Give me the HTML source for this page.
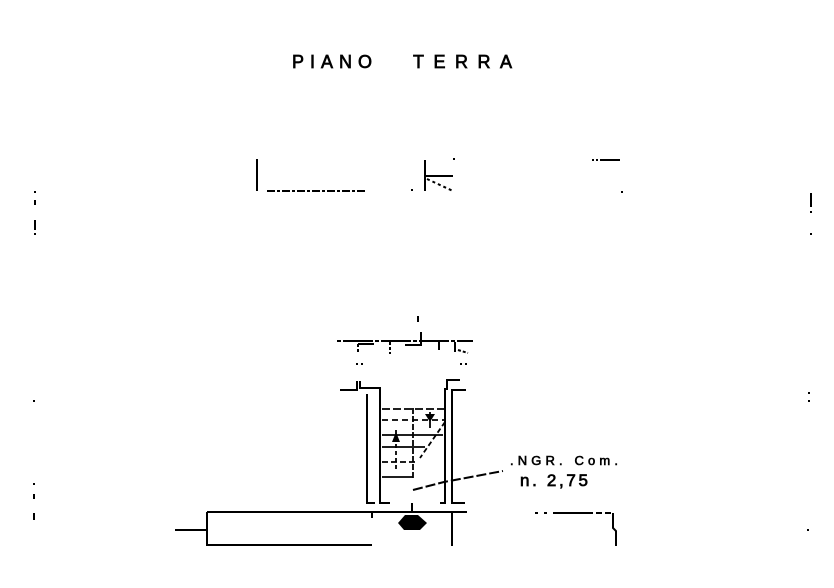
<!DOCTYPE html>
<html><head><meta charset="utf-8"><style>
html,body{margin:0;padding:0;background:#fff;width:834px;height:588px;overflow:hidden}
svg{display:block}
text{font-family:"Liberation Sans",sans-serif;fill:#000}
</style></head><body>
<svg width="834" height="588" viewBox="0 0 834 588" stroke="#000" fill="none" stroke-width="2">
<text x="292" y="68" font-size="18" stroke="#000" stroke-width="0.7" textLength="80" lengthAdjust="spacing">PIANO</text>
<text x="413" y="68" font-size="18" stroke="#000" stroke-width="0.7" textLength="99" lengthAdjust="spacing">TERRA</text>
<!-- top fragments -->
<line x1="257" y1="159" x2="257" y2="191"/>
<line x1="267" y1="191" x2="367" y2="191" stroke-dasharray="8,2,3,2"/>
<line x1="425" y1="160" x2="425" y2="191"/>
<line x1="426" y1="176" x2="453" y2="176"/>
<line x1="427" y1="179" x2="453" y2="191" stroke-dasharray="3,3"/>
<rect x="411" y="189" width="2" height="2" fill="#000" stroke="none"/>
<rect x="453" y="158" width="2" height="2" fill="#000" stroke="none"/>
<line x1="592" y1="160" x2="622" y2="160" stroke-dasharray="2,2,2,2,20"/>
<rect x="621" y="191" width="2" height="2" fill="#000" stroke="none"/>
<!-- edge marks -->
<g fill="#000" stroke="none">
<rect x="34" y="191" width="2" height="2"/><rect x="34" y="200" width="2" height="5"/>
<rect x="34" y="220" width="2" height="10"/><rect x="34" y="233" width="2" height="2"/>
<rect x="33" y="400" width="2" height="2"/><rect x="33" y="483" width="2" height="2"/>
<rect x="33" y="494" width="2" height="5"/><rect x="33" y="513" width="2" height="7"/>
<rect x="810" y="193" width="2" height="14"/><rect x="810" y="211" width="2" height="2"/><rect x="810" y="233" width="2" height="2"/>
<rect x="808" y="392" width="2" height="2"/><rect x="808" y="400" width="2" height="2"/>
<rect x="807" y="529" width="2" height="2"/>
</g>
<!-- top plan -->
<line x1="418" y1="316" x2="418" y2="322"/>
<line x1="337" y1="341" x2="473" y2="341" stroke-dasharray="4,2,30,2"/>
<line x1="358" y1="344" x2="358" y2="352" stroke-dasharray="3,2"/>
<line x1="358" y1="344" x2="374" y2="344"/>
<line x1="390" y1="342" x2="390" y2="354" stroke-dasharray="3,2"/>
<line x1="405" y1="345" x2="420" y2="345"/>
<line x1="421" y1="332" x2="421" y2="346"/>
<line x1="439" y1="340" x2="439" y2="350"/>
<line x1="455" y1="342" x2="455" y2="352"/>
<line x1="458" y1="350" x2="468" y2="353" stroke-dasharray="3,2"/>
<line x1="356" y1="364" x2="366" y2="364" stroke-dasharray="2,3"/>
<line x1="460" y1="364" x2="467" y2="364" stroke-dasharray="2,3"/>
<!-- walls -->
<polyline points="340,390 357,390 357,381"/>
<polyline points="360,381 360,388 380,388 380,503 390,503"/>
<polyline points="367,394 367,503 375,503"/>
<polyline points="460,380 447,380 447,389 445,389 445,503 440,503"/>
<polyline points="466,390 452,390 452,503 465,503"/>
<!-- stairs -->
<g stroke-width="1.8">
<line x1="382" y1="409" x2="445" y2="409" stroke-dasharray="8,3"/>
<line x1="382" y1="420" x2="445" y2="420" stroke-dasharray="6,4"/>
<line x1="382" y1="435" x2="443" y2="435"/>
<line x1="382" y1="447" x2="425" y2="447"/>
<line x1="382" y1="462" x2="415" y2="462" stroke-dasharray="6,3"/>
<line x1="382" y1="477" x2="413" y2="477"/>
<line x1="413" y1="408" x2="413" y2="478" stroke-dasharray="6,2"/>
<line x1="396" y1="430" x2="396" y2="470" stroke-dasharray="4,3"/>
<line x1="430" y1="412" x2="430" y2="428"/>
<line x1="445" y1="422" x2="420" y2="458" stroke-dasharray="5,3"/>
</g>
<path d="M425 414 L435 414 L430 422 Z" fill="#000" stroke="none"/>
<path d="M392 442 L400 442 L396 432 Z" fill="#000" stroke="none"/>
<!-- leader -->
<polyline points="413,490 444,482 503,471" stroke-dasharray="10,3"/>
<text x="510" y="465" font-size="13" stroke="#000" stroke-width="0.6" textLength="108" lengthAdjust="spacing">.NGR. Com.</text>
<text x="520" y="486" font-size="17" stroke="#000" stroke-width="0.7" textLength="68" lengthAdjust="spacing">n. 2,75</text>
<!-- base -->
<line x1="207" y1="512" x2="467" y2="512"/>
<line x1="175" y1="530" x2="207" y2="530"/>
<line x1="207" y1="512" x2="207" y2="546"/>
<line x1="207" y1="545" x2="372" y2="545"/>
<line x1="372" y1="512" x2="372" y2="518"/>
<line x1="452" y1="512" x2="452" y2="546"/>
<path d="M398 523 L405 515 L418 515 L427 523 L420 530 L404 530 Z" fill="#000" stroke="none"/>
<line x1="412" y1="503" x2="412" y2="512"/>
<line x1="535" y1="513" x2="612" y2="513" stroke-dasharray="3,6,3,6,40"/>
<polyline points="613,513 613,528 616,531 616,546"/>
</svg>
</body></html>
